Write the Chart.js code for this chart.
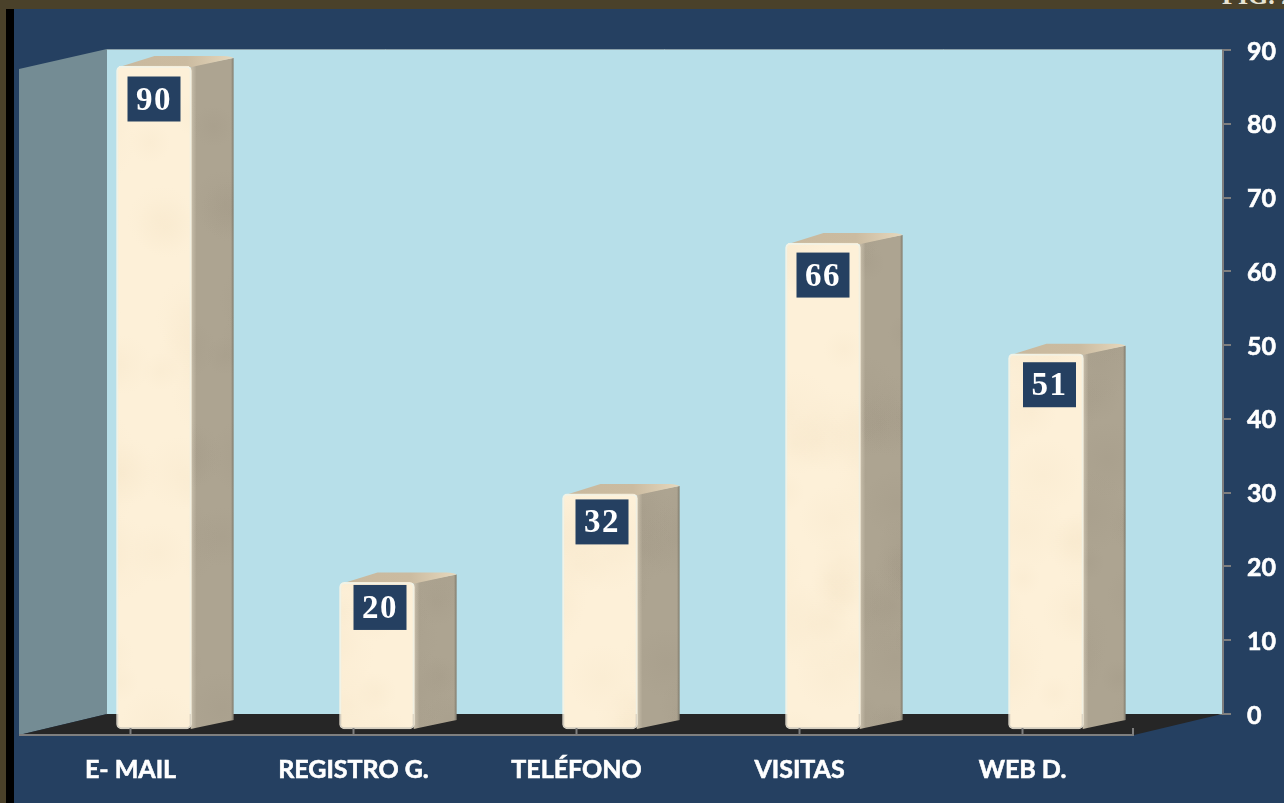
<!DOCTYPE html>
<html><head><meta charset="utf-8">
<style>
html,body{margin:0;padding:0;width:1284px;height:803px;overflow:hidden;background:#4a412a}
#black{position:absolute;left:6px;top:9px;width:8px;height:794px;background:#000}
#panel{position:absolute;left:14px;top:9px;width:1270px;height:794px;background:#254061}
#fig{position:absolute;left:1222px;top:-19px;font:bold 26px "Liberation Serif";color:#e8e4d4;white-space:nowrap}
#wrap{position:absolute;left:0;top:0;width:1284px;height:803px}
</style>
<script src="https://cdn.jsdelivr.net/npm/chart.js@4"></script>
</head><body>
<div id="black"></div><div id="panel"></div><div id="fig">FIG. 2</div>
<div id="wrap"><canvas id="c" width="1284" height="803"></canvas></div>
<script>
const categories = ["E- MAIL","REGISTRO G.","TELÉFONO","VISITAS","WEB D."];
const values = [90,20,32,66,51];
const yTicks = [0,10,20,30,40,50,60,70,80,90];

const DEPTH_X = 88, DEPTH_Y = 21;      // wall -> front edge of floor
const BAR_DX = -64.5, BAR_DY = 16;     // wall -> bar front face
const SIDE_X = 42, SIDE_Y = -9;        // bar side face depth
const BOX_NUDGE_X = [0,3,2,0,3.5];     // hand placement of the value boxes
const BOX_NUDGE_Y = [33,25,28,32,31];

// very soft marble clouding for the faces of the bars
function marble(base,spot){
  const c=document.createElement('canvas');c.width=1284;c.height=803;
  const g=c.getContext('2d');g.fillStyle=base;g.fillRect(0,0,1284,803);
  let s=12345;
  const next=()=>{s=(s*1103515245+12345)%2147483648;return (s>>>8)/8388608;};
  for(let i=0;i<420;i++){
    const x=next()*1284,y=next()*803,r=14+next()*34;
    const rg=g.createRadialGradient(x,y,0,x,y,r);
    rg.addColorStop(0,spot);rg.addColorStop(1,spot.replace(/[\d.]+\)$/,'0)'));
    g.fillStyle=rg;g.fillRect(x-r,y-r,2*r,2*r);
  }
  return c;
}
const frontTex=marble('#fdf0d8','rgba(243,226,196,.22)');
const sideTex=marble('#ada491','rgba(158,148,130,.22)');

const scene = {
  id:'scene',
  beforeDatasetsDraw(chart){
    const {ctx,chartArea:a} = chart;
    ctx.fillStyle='#b7dfe9'; ctx.fillRect(a.left,a.top-1,a.width,a.height+1);
    // left wall
    ctx.fillStyle='#748c94';
    ctx.beginPath();ctx.moveTo(a.left,a.top-1);ctx.lineTo(a.left,a.bottom);
    ctx.lineTo(a.left-DEPTH_X,a.bottom+DEPTH_Y);ctx.lineTo(a.left-DEPTH_X,a.top+DEPTH_Y-2);ctx.closePath();ctx.fill();
    // floor
    ctx.fillStyle='#262626';
    ctx.beginPath();ctx.moveTo(a.left,a.bottom);ctx.lineTo(a.right,a.bottom);
    ctx.lineTo(a.right-DEPTH_X,a.bottom+DEPTH_Y);ctx.lineTo(a.left-DEPTH_X,a.bottom+DEPTH_Y);ctx.closePath();ctx.fill();
    // top edge of wall
    ctx.strokeStyle='#8aa0aa';ctx.lineWidth=1;
    ctx.beginPath();ctx.moveTo(a.left,a.top-.5);ctx.lineTo(a.right,a.top-.5);ctx.stroke();
    // front axis
    const fy=a.bottom+DEPTH_Y;
    ctx.strokeStyle='#7f7f7f';ctx.lineWidth=2;
    ctx.beginPath();ctx.moveTo(a.left-DEPTH_X,fy);ctx.lineTo(a.right-DEPTH_X,fy);ctx.stroke();
    // side and top faces of bars
    chart.getDatasetMeta(0).data.forEach(el=>{
      const hw=el.width/2,l=el.x-hw+BAR_DX,r=el.x+hw+BAR_DX,t=el.y+BAR_DY,b=el.base+BAR_DY;
      ctx.save();
      ctx.beginPath();ctx.moveTo(r-1,t);ctx.lineTo(r+SIDE_X,t+SIDE_Y+1);ctx.lineTo(r+SIDE_X,b+SIDE_Y);ctx.lineTo(r-1,b);ctx.closePath();ctx.clip();
      ctx.fillStyle=ctx.createPattern(sideTex,'no-repeat');ctx.fillRect(r-1,t-20,SIDE_X+2,b-t+40);
      const sh=ctx.createLinearGradient(r,0,r+SIDE_X,0);
      sh.addColorStop(0,'rgba(235,225,205,.4)');sh.addColorStop(.12,'rgba(235,225,205,0)');
      sh.addColorStop(.94,'rgba(90,90,80,0)');sh.addColorStop(1,'rgba(90,90,80,.55)');
      ctx.fillStyle=sh;ctx.fillRect(r-1,t-20,SIDE_X+2,b-t+40);
      ctx.restore();
      const g=ctx.createLinearGradient(l,0,r+SIDE_X,0);
      g.addColorStop(0,'#c9b99e');g.addColorStop(.6,'#cbbba0');g.addColorStop(1,'#e6d8bd');
      ctx.fillStyle=g;
      ctx.beginPath();ctx.moveTo(l+6,t);ctx.lineTo(l+38,t+SIDE_Y-1);
      ctx.lineTo(r+SIDE_X-10,t+SIDE_Y-1);ctx.quadraticCurveTo(r+SIDE_X-2,t+SIDE_Y-.5,r+SIDE_X,t+SIDE_Y+1);
      ctx.lineTo(r,t+1);ctx.closePath();ctx.fill();
    });
  },
  beforeDatasetDraw(chart){ chart.ctx.save(); chart.ctx.translate(BAR_DX,BAR_DY); },
  afterDatasetDraw(chart){ chart.ctx.restore(); },
  afterDatasetsDraw(chart){
    const {ctx,chartArea:a}=chart, xs=chart.scales.x, fy=a.bottom+DEPTH_Y;
    ctx.strokeStyle='#7f7f7f';ctx.lineWidth=2;
    const marks=categories.map((_,i)=>xs.getPixelForTick(i)-DEPTH_X).concat(a.right-DEPTH_X-1);
    marks.forEach(x=>{ctx.beginPath();ctx.moveTo(x,fy-7);ctx.lineTo(x,fy);ctx.stroke();});
    chart.getDatasetMeta(0).data.forEach((el,i)=>{
      const bx=el.x+BAR_DX+BOX_NUDGE_X[i], by=el.y+BAR_DY+BOX_NUDGE_Y[i];
      ctx.fillStyle='#254061';ctx.fillRect(bx-26.5,by-22.5,53,45);
      ctx.fillStyle='#fff';ctx.font='bold 33px "Liberation Serif"';
      ctx.letterSpacing='1.5px';
      ctx.textAlign='center';ctx.textBaseline='middle';
      ctx.fillText(String(values[i]),bx,by+2);
      ctx.letterSpacing='0px';
    });
  }
};

const barFill=(()=>{const p=document.createElement('canvas').getContext('2d');return p.createPattern(frontTex,'no-repeat');})();

new Chart(document.getElementById('c'),{
  type:'bar',
  data:{labels:categories,datasets:[{data:values,barThickness:75,
    backgroundColor:barFill,borderColor:'rgba(255,248,230,.8)',borderWidth:2,borderRadius:5,borderSkipped:false,clip:false}]},
  options:{
    responsive:false,animation:false,
    layout:{padding:{left:107,top:50,right:0,bottom:0}},
    plugins:{legend:{display:false},tooltip:{enabled:false},title:{display:false}},
    scales:{
      x:{grid:{display:false},border:{display:true,color:'#8f9a9f',width:2},
        afterFit(s){s.height=89;},
        ticks:{color:'#fff',textStrokeColor:'#fff',textStrokeWidth:.6,font:{family:'Lato',weight:'bold',size:25},labelOffset:-88,padding:33,maxRotation:0,autoSkip:false}},
      y:{position:'right',min:0,max:90,
        afterFit(s){s.width=62;},
        afterBuildTicks(s){s.ticks=yTicks.map(v=>({value:v}));},
        grid:{drawOnChartArea:false,drawTicks:true,tickLength:9,color:'#7f7f7f',lineWidth:2},
        border:{display:true,color:'#7f7f7f',width:3},
        ticks:{color:'#fff',textStrokeColor:'#fff',textStrokeWidth:.6,font:{family:'Lato',weight:'bold',size:25},padding:16,labelOffset:1.5}}
    }
  },
  plugins:[scene]
});
</script>
</body></html>
